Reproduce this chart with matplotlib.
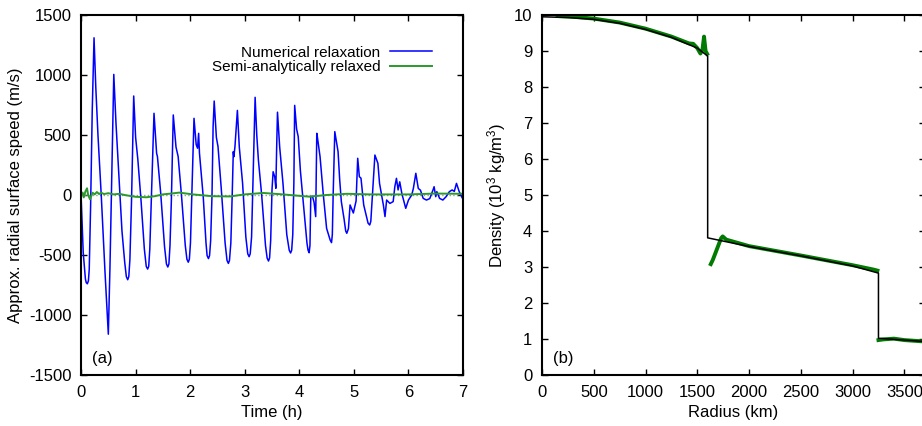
import matplotlib
matplotlib.use("Agg")
import matplotlib.pyplot as plt

plt.rcParams['font.family'] = ['Liberation Sans', 'DejaVu Sans']
plt.rcParams['mathtext.fontset'] = 'custom'
plt.rcParams['mathtext.rm'] = 'Liberation Sans'
plt.rcParams['mathtext.it'] = 'Liberation Sans'
plt.rcParams['axes.unicode_minus'] = False
plt.rcParams['font.size'] = 12

# panel (a): surface speed vs time
tempo_num = [0.00, 0.04, 0.08, 0.095, 0.115, 0.135, 0.15, 0.175, 0.205, 0.238, 0.27, 0.31, 0.37,
             0.44, 0.50, 0.53, 0.565, 0.60, 0.64, 0.70, 0.75, 0.80, 0.83, 0.855, 0.875, 0.895,
             0.925, 0.965, 1.00, 1.04, 1.10, 1.16, 1.195, 1.22, 1.24, 1.26, 1.29, 1.337, 1.385,
             1.40, 1.46, 1.53, 1.565, 1.59, 1.61, 1.63, 1.655, 1.69, 1.74, 1.78, 1.785, 1.84,
             1.91, 1.94, 1.965, 1.985, 2.005, 2.03, 2.07, 2.11, 2.135, 2.155, 2.17, 2.24, 2.29,
             2.31, 2.335, 2.355, 2.375, 2.40, 2.42, 2.44, 2.48, 2.51, 2.57, 2.64, 2.675, 2.70,
             2.72, 2.745, 2.77, 2.79, 2.80, 2.82, 2.865, 2.90, 2.96, 3.02, 3.055, 3.08, 3.10,
             3.125, 3.15, 3.19, 3.22, 3.25, 3.31, 3.38, 3.41, 3.435, 3.455, 3.475, 3.50, 3.52,
             3.55, 3.57, 3.585, 3.60, 3.64, 3.70, 3.77, 3.815, 3.84, 3.86, 3.88, 3.90, 3.915,
             3.95, 3.98, 4.02, 4.08, 4.14, 4.16, 4.18, 4.195, 4.21, 4.24, 4.27, 4.30, 4.32,
             4.33, 4.38, 4.44, 4.50, 4.565, 4.59, 4.605, 4.62, 4.65, 4.71, 4.74, 4.77, 4.82,
             4.85, 4.87, 4.90, 4.93, 4.99, 5.04, 5.07, 5.10, 5.13, 5.18, 5.26, 5.29, 5.31,
             5.34, 5.385, 5.44, 5.47, 5.54, 5.57, 5.60, 5.66, 5.72, 5.75, 5.78, 5.81, 5.84,
             5.88, 5.95, 6.00, 6.06, 6.09, 6.135, 6.18, 6.22, 6.27, 6.33, 6.39, 6.45, 6.47,
             6.50, 6.52, 6.57, 6.63, 6.69, 6.75, 6.80, 6.84, 6.88, 6.93, 6.99, 7.00]
vel_num = [0, -480, -700, -730, -740, -715, -620, -100, 700, 1310, 900, 500, 0,
           -650, -1160, -600, 200, 1005, 600, 100, -300, -560, -680, -706, -680, -540,
           -50, 825, 480, 300, -50, -450, -595, -617, -595, -450, 0, 681, 347,
           320, 14, -430, -575, -600, -575, -420, -50, 667, 400, 319, 290, 0,
           -420, -535, -560, -535, -400, 0, 639, 420, 390, 514, 350, -20, -400,
           -505, -530, -505, -380, 0, 569, 783, 480, 403, 50, -400, -545, -570,
           -545, -400, 0, 361, 319, 400, 705, 400, 100, -350, -490, -514, -490,
           -350, 100, 814, 500, 292, 0, -420, -525, -550, -525, -380, 50, 194,
           150, 56, 400, 690, 400, 100, -330, -460, -483, -460, -330, 100, 747,
           550, 486, 200, -100, -400, -460, -481, -420, -14, -10, -60, -180, 514,
           486, 319, 0, -278, -375, -397, -330, 0, 528, 361, 125, -55, -200,
           -300, -319, -280, -83, -150, -50, 306, 153, 140, -83, -235, -250, -220,
           0, 333, 264, 97, -83, -180, -42, -70, -55, 69, 139, 42, 110,
           10, -111, -42, 0, 55, 181, 55, 40, -28, -42, -30, 42, 69,
           -14, 28, -28, -42, -14, 28, 42, 30, 97, 28, -28, -20]

tempo_semi = [0.00, 0.03, 0.05, 0.08, 0.11, 0.13, 0.165, 0.21, 0.25, 0.29, 0.33, 0.37, 0.42,
              0.50, 0.60, 0.70, 0.80, 0.90, 1.00, 1.20, 1.35, 1.50, 1.65, 1.80, 2.05, 2.40,
              2.73, 3.00, 3.34, 3.70, 3.95, 4.19, 4.50, 4.87, 5.30, 6.00, 6.50, 7.00]
vel_semi = [0, 20, -20, 30, 56, 0, -36, 19, 5, 25, 8, 19, 8,
            15, 5, 10, 0, -8, -15, -19, -10, 5, 12, 20, 5, -10,
            -12, 5, 17, 5, -5, -14, 0, 10, 5, 5, 12, 10]

# panel (b): density profile
raio_modelo = [0, 250, 500, 750, 1000, 1250, 1500, 1600, 1600, 2000, 2500, 3000, 3250, 3250,
               3500, 3700]
dens_modelo = [9.95, 9.93, 9.88, 9.77, 9.60, 9.38, 9.08, 8.86, 3.81, 3.57, 3.31, 3.03, 2.83, 1.02,
               0.97, 0.93]

raio_nucleo = [150, 300, 500, 750, 1000, 1250, 1420, 1460, 1500, 1530, 1550, 1565, 1580, 1595]
dens_nucleo = [9.97, 9.95, 9.90, 9.79, 9.62, 9.40, 9.21, 9.20, 9.08, 8.93, 9.05, 9.40, 9.00, 8.92]

raio_manto = [1630, 1650, 1670, 1690, 1710, 1730, 1745, 1780, 2000, 2500, 3000, 3200, 3240]
dens_manto = [3.08, 3.20, 3.35, 3.50, 3.65, 3.80, 3.85, 3.76, 3.58, 3.32, 3.05, 2.93, 2.90]

raio_crosta = [3250, 3300, 3400, 3500, 3600, 3700]
dens_crosta = [0.97, 0.99, 1.01, 0.97, 0.95, 0.93]


def estilo(ax):
    for lado in ax.spines.values():
        lado.set_linewidth(1.5)
    ax.tick_params(direction='in', top=True, right=True, length=4, width=1, labelsize=12, pad=7)


fig = plt.figure(figsize=(9.22, 4.26), dpi=100)

ax1 = fig.add_axes([0.0879, 0.1197, 0.4143, 0.8451])
ax1.axhline(0, color='#999999', ls=':', lw=1)
ax1.plot(tempo_num, vel_num, color='#0000ff', lw=1.1, label='Numerical relaxation')
ax1.plot(tempo_semi, vel_semi, color='#2a9a2a', lw=1.4, label='Semi-analytically relaxed')
ax1.set_xlim(0, 7)
ax1.set_ylim(-1500, 1500)
ax1.set_xticks(range(0, 8))
ax1.set_yticks(range(-1500, 1501, 500))
ax1.set_xlabel('Time (h)', labelpad=4)
ax1.set_ylabel('Approx. radial surface speed (m/s)', labelpad=4)
ax1.legend(loc='upper right', bbox_to_anchor=(0.918, 0.915), markerfirst=False, frameon=False,
           handlelength=2.7, handletextpad=0.65, labelspacing=0.05, borderpad=0, borderaxespad=0,
           fontsize=11)
ax1.text(0.029, 0.045, '(a)', transform=ax1.transAxes, va='center', fontsize=12)
estilo(ax1)

ax2 = fig.add_axes([0.5879, 0.1197, 0.4154, 0.8451])
ax2.plot(raio_nucleo, dens_nucleo, color='#007a00', lw=2.8)
ax2.plot(raio_manto, dens_manto, color='#007a00', lw=2.8)
ax2.plot(raio_crosta, dens_crosta, color='#007a00', lw=2.8)
ax2.plot(raio_modelo, dens_modelo, color='black', lw=1.1)
ax2.set_xlim(0, 3700)
ax2.set_ylim(0, 10)
ax2.set_xticks(range(0, 3501, 500))
ax2.set_yticks(range(0, 11))
ax2.set_xlabel('Radius (km)', labelpad=4)
ax2.set_ylabel('Density (10$^3$ kg/m$^3$)', labelpad=4)
ax2.text(0.029, 0.045, '(b)', transform=ax2.transAxes, va='center', fontsize=12)
estilo(ax2)

fig.savefig('out.png', dpi=100)
